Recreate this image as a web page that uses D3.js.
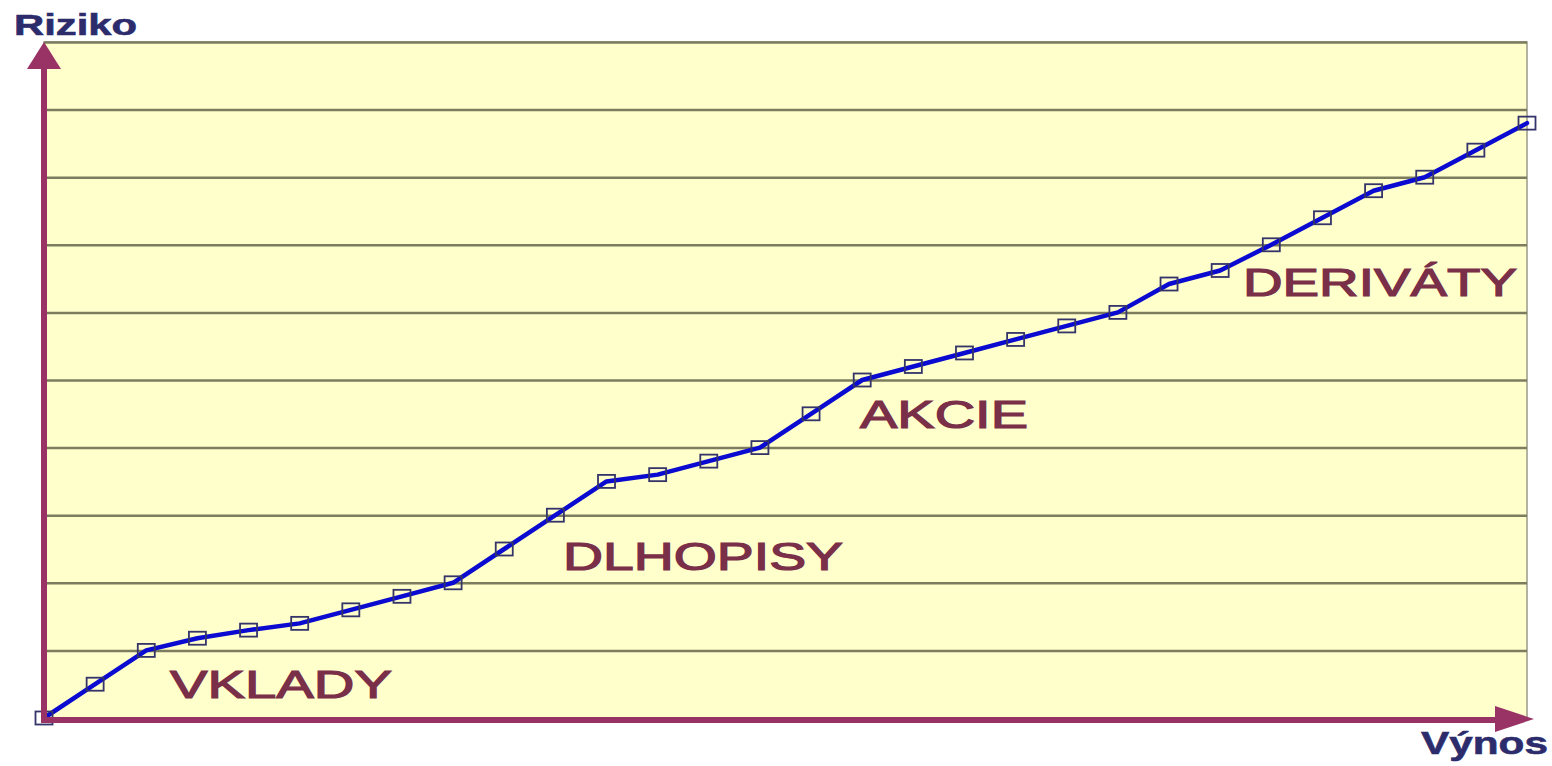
<!DOCTYPE html>
<html>
<head>
<meta charset="utf-8">
<script src="https://cdn.jsdelivr.net/npm/d3@7"></script>
<style>
  body { margin: 0; background: #fff; }
  svg { display: block; }
</style>
</head>
<body>
<svg id="chart"></svg>
<script>
// risk (Riziko) per step along the return (Výnos) axis
const steps = d3.range(30);
const risk = [0, 0.5, 1.0, 1.18, 1.3, 1.4, 1.6, 1.8, 2.0, 2.5,
              3.0, 3.5, 3.6, 3.8, 4.0, 4.5, 5.0, 5.2, 5.4, 5.6,
              5.8, 6.0, 6.42, 6.62, 7.0, 7.4, 7.8, 8.0, 8.4, 8.8];
const gridTicks = d3.range(1, 11);
const groups = ["VKLADY", "DLHOPISY", "AKCIE", "DERIVÁTY"];
const yLabel = "Riziko";
const xLabel = "Výnos";

const W = 1552, H = 766;
const mLeft = 44, mRight = 1527, mTop = 42, mBottom = 718;

const svg = d3.select("#chart")
    .attr("width", W)
    .attr("height", H);

const x = d3.scaleLinear().domain([0, 29]).range([mLeft, mRight]);
const y = d3.scaleLinear().domain([0, 10]).range([mBottom, mTop]);

// plot background
svg.append("rect")
    .attr("x", mLeft)
    .attr("y", mTop)
    .attr("width", mRight - mLeft)
    .attr("height", mBottom - mTop)
    .attr("fill", "#ffffcc")
    .attr("stroke", "#9a9a88")
    .attr("stroke-width", 1.5);

// horizontal grid
const grid = svg.append("g")
    .attr("transform", `translate(${mLeft},0)`)
    .call(d3.axisLeft(y).tickValues(gridTicks).tickSize(-(mRight - mLeft)).tickFormat(""));
grid.select(".domain").remove();
grid.selectAll("line")
    .attr("stroke", "#7c7c5e")
    .attr("stroke-width", 2.5);

// group labels
const labelPos = [
    {x: 170, y: 698, w: 222},
    {x: 563, y: 570, w: 280},
    {x: 860, y: 428, w: 168},
    {x: 1243, y: 296, w: 274}
];
groups.forEach((g, i) => {
    svg.append("text")
        .attr("x", labelPos[i].x)
        .attr("y", labelPos[i].y)
        .attr("textLength", labelPos[i].w)
        .attr("lengthAdjust", "spacingAndGlyphs")
        .attr("font-family", "Liberation Sans, Arial, sans-serif")
        .attr("font-size", 39)
        .attr("fill", "#7a2f48")
        .attr("stroke", "#7a2f48")
        .attr("stroke-width", 1.2)
        .text(g);
});

// line
const line = d3.line()
    .x(d => x(d[0]))
    .y(d => y(d[1]));
const pts = steps.map((s, i) => [s, risk[i]]);

svg.append("path")
    .datum(pts)
    .attr("d", line)
    .attr("fill", "none")
    .attr("stroke", "#0a0ad0")
    .attr("stroke-width", 4.5)
    .attr("stroke-linejoin", "round")
    .attr("stroke-linecap", "round");

// square markers
svg.selectAll("rect.mk")
    .data(pts)
    .enter()
    .append("rect")
    .attr("class", "mk")
    .attr("x", d => x(d[0]) - 8.5)
    .attr("y", d => y(d[1]) - 6.5)
    .attr("width", 17)
    .attr("height", 13)
    .attr("fill", "none")
    .attr("stroke", "#34346a")
    .attr("stroke-width", 1.8);

// axes arrows
const axisColor = "#993366";
svg.append("line")
    .attr("x1", mLeft).attr("y1", mBottom + 3)
    .attr("x2", mLeft).attr("y2", mTop + 22)
    .attr("stroke", axisColor)
    .attr("stroke-width", 6);
svg.append("path")
    .attr("d", `M${mLeft},${mTop} L${mLeft - 17},${mTop + 27} L${mLeft + 17},${mTop + 27} Z`)
    .attr("fill", axisColor);

svg.append("line")
    .attr("x1", mLeft - 3).attr("y1", mBottom + 2)
    .attr("x2", mRight - 25).attr("y2", mBottom + 2)
    .attr("stroke", axisColor)
    .attr("stroke-width", 6);
svg.append("path")
    .attr("d", `M${mRight + 7},${mBottom + 1} L${mRight - 32},${mBottom - 12} L${mRight - 32},${mBottom + 14} Z`)
    .attr("fill", axisColor);

// axis titles
svg.append("text")
    .attr("x", 14)
    .attr("y", 35)
    .attr("textLength", 123)
    .attr("lengthAdjust", "spacingAndGlyphs")
    .attr("font-family", "Liberation Sans, Arial, sans-serif")
    .attr("font-weight", "bold")
    .attr("font-size", 29)
    .attr("fill", "#2c2c6c")
    .attr("stroke", "#2c2c6c")
    .attr("stroke-width", 0.6)
    .text(yLabel);

svg.append("text")
    .attr("x", 1421)
    .attr("y", 754)
    .attr("textLength", 127)
    .attr("lengthAdjust", "spacingAndGlyphs")
    .attr("font-family", "Liberation Sans, Arial, sans-serif")
    .attr("font-weight", "bold")
    .attr("font-size", 32)
    .attr("fill", "#2c2c6c")
    .attr("stroke", "#2c2c6c")
    .attr("stroke-width", 0.6)
    .text(xLabel);
</script>
</body>
</html>
